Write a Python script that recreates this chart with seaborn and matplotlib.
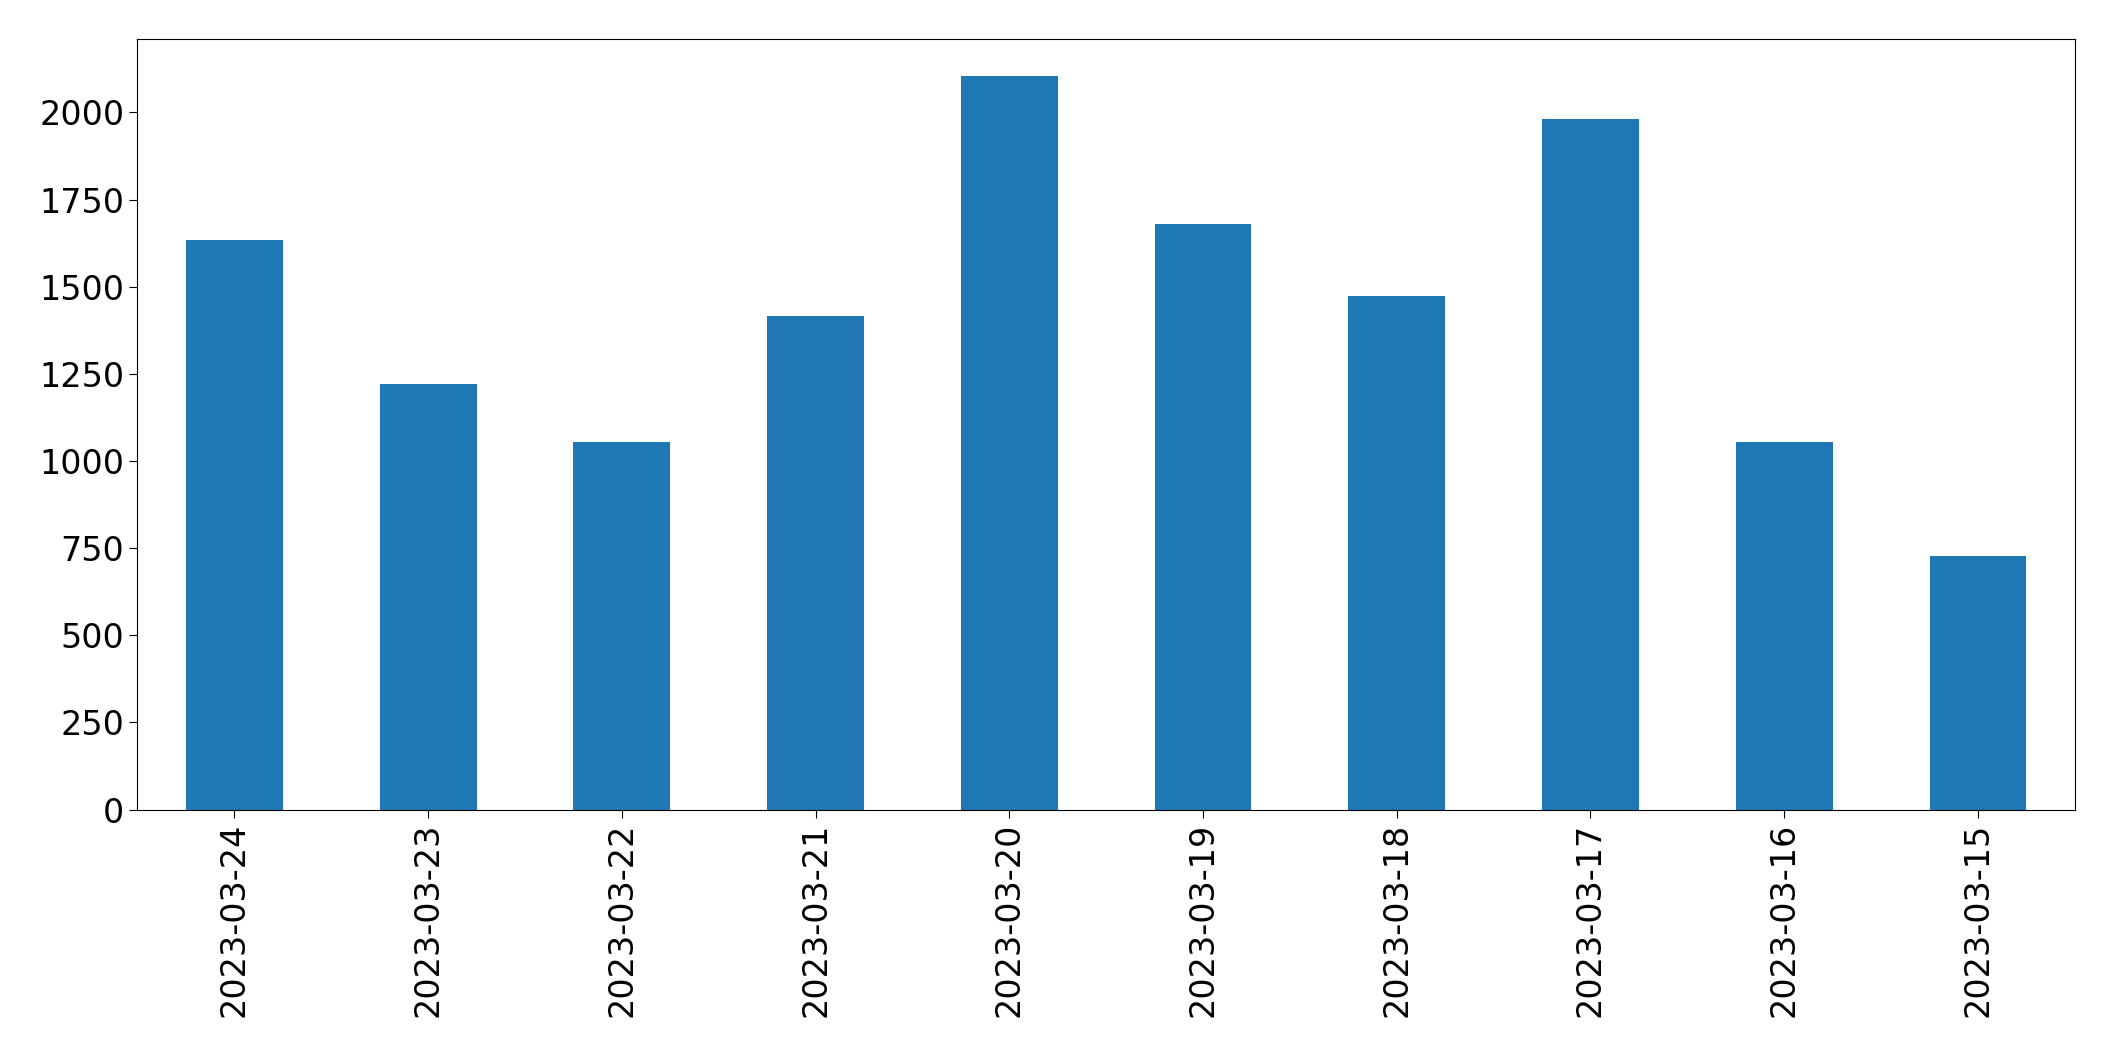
import matplotlib
matplotlib.use("Agg")
import matplotlib.pyplot as plt
import seaborn as sns
import pandas as pd

dates = ["2023-03-24","2023-03-23","2023-03-22","2023-03-21","2023-03-20",
         "2023-03-19","2023-03-18","2023-03-17","2023-03-16","2023-03-15"]
values = [1635, 1220, 1055, 1415, 2105, 1680, 1472, 1980, 1055, 728]

df = pd.DataFrame({"date": dates, "value": values})
fig = plt.figure(figsize=(21.15, 10.61), dpi=100)
ax = fig.add_axes([0.065, 0.237, 0.916, 0.726])
sns.barplot(data=df, x="date", y="value", ax=ax, color="#1f77b4", saturation=1, width=0.5)
ax.set_xlabel("")
ax.set_ylabel("")
ax.set_xlim(-0.5, len(dates) - 0.5)
ax.set_ylim(0, 2210)
ax.tick_params(axis="both", labelsize=24, length=6)
plt.setp(ax.get_xticklabels(), rotation=90)
fig.savefig("out.png", dpi=100)
